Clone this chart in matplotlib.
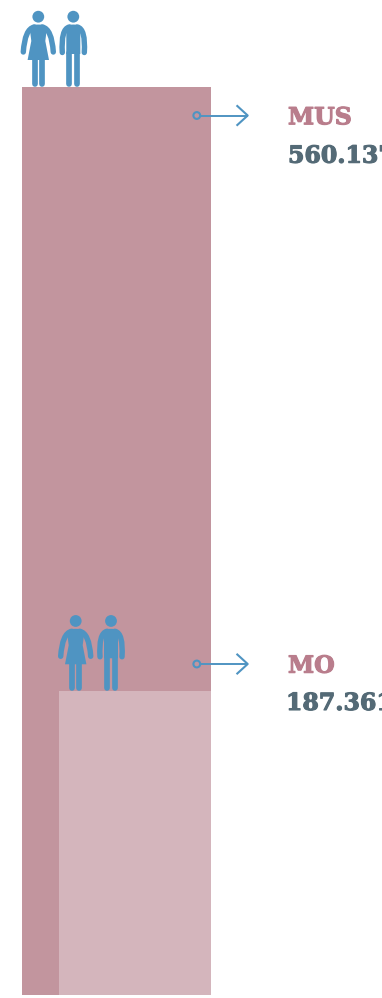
"""Two nested bars with people icons, MUS vs MO totals."""
import matplotlib
matplotlib.use("Agg")
import matplotlib.pyplot as plt
import matplotlib.patheffects as pe
from matplotlib.patches import Circle, PathPatch
from matplotlib.path import Path

labels = ["MUS", "MO"]
values = [560.137, 187.361]
value_text = ["560.137", "187.361"]

BAR_COLORS = ["#c2959e", "#d4b5bc"]
BLUE = "#4f94c2"
NAME_COLOR = "#b97d8c"
VALUE_COLOR = "#546a76"

W, H = 382, 998
BASE = 995  # pixel row of the zero line
SCALE = 908 / values[0]  # pixels per unit

fig = plt.figure(figsize=(W / 100, H / 100), dpi=100)
ax = fig.add_axes([0, 0, 1, 1])
ax.set_xlim(0, W)
ax.set_ylim(-(H - BASE) / SCALE, BASE / SCALE)
ax.axis("off")

# overlay in pixel coordinates for icons, callouts and text
px = fig.add_axes([0, 0, 1, 1])
px.set_xlim(0, W)
px.set_ylim(H, 0)
px.axis("off")
px.patch.set_alpha(0)

ax.bar(116.5, values[0], width=189, color=BAR_COLORS[0], linewidth=0)
ax.bar(135, values[1], width=152, color=BAR_COLORS[1], linewidth=0)

M, L, C = Path.MOVETO, Path.LINETO, Path.CURVE3


def stroke(verts, codes=None, lw=4.0):
    p = PathPatch(Path(verts, codes), fc="none", ec=BLUE, lw=lw, capstyle="round", joinstyle="round")
    px.add_patch(p)


def fill(x, feet, pts, codes):
    verts = [(x + a, feet + b) for a, b in pts]
    px.add_patch(PathPatch(Path(verts, codes), fc=BLUE, ec="none"))


def woman(x, feet):
    px.add_patch(Circle((x, feet - 70.3), 5.9, fc=BLUE, ec="none"))
    fill(x, feet,
         [(-5, -62.3), (-8.5, -58), (-7, -46), (-10.7, -27), (10.7, -27),
          (7, -46), (8.5, -58), (5, -62.3), (0, -62.6), (-5, -62.3)],
         [M, L, L, L, L, L, L, L, C, C])
    for s in (-1, 1):
        stroke([(x + s * 4, feet - 60), (x + s * 13.5, feet - 58), (x + s * 15, feet - 35)],
               [M, C, C], lw=3.9)
        stroke([(x + s * 3.7, feet - 28), (x + s * 3.7, feet - 2.8)], lw=4.1)


def man(x, feet):
    px.add_patch(Circle((x, feet - 70.3), 5.9, fc=BLUE, ec="none"))
    fill(x, feet,
         [(-7, -33), (-7, -53), (-8, -58), (-4, -62.3), (0, -62.6), (4, -62.3),
          (8, -58), (7, -53), (7, -33), (-7, -33)],
         [M, L, L, L, C, C, L, L, L, Path.CLOSEPOLY])
    for s in (-1, 1):
        stroke([(x + s * 4, feet - 60), (x + s * 12.5, feet - 58), (x + s * 11, feet - 34.5)],
               [M, C, C], lw=3.9)
        stroke([(x + s * 3.9, feet - 34), (x + s * 3.9, feet - 2.8)], lw=4.1)


group_x = [(38.3, 73.3), (75.7, 111)]
callout_y = [115.5, 664]
name_xy = [(288, 124.3), (288, 672.7)]
value_xy = [(288, 162.7), (286, 710)]

for i, v in enumerate(values):
    feet = BASE - v * SCALE
    woman(group_x[i][0], feet)
    man(group_x[i][1], feet)

    y = callout_y[i]
    px.add_patch(Circle((196.8, y), 3.4, fc="none", ec=BLUE, lw=1.5))
    px.plot([200.2, 247.5], [y, y], color=BLUE, lw=1.4, solid_capstyle="butt")
    px.plot([237.3, 247.7, 237.3], [y - 9.5, y, y + 9.5], color=BLUE, lw=1.5)

    for xy, s, col in ((name_xy[i], labels[i], NAME_COLOR), (value_xy[i], value_text[i], VALUE_COLOR)):
        t = px.text(*xy, s, color=col, fontsize=17, fontweight="bold",
                    family="DejaVu Serif", ha="left", va="baseline")
        t.set_path_effects([pe.withStroke(linewidth=0.8, foreground=col)])

fig.savefig("out.png", dpi=100)
